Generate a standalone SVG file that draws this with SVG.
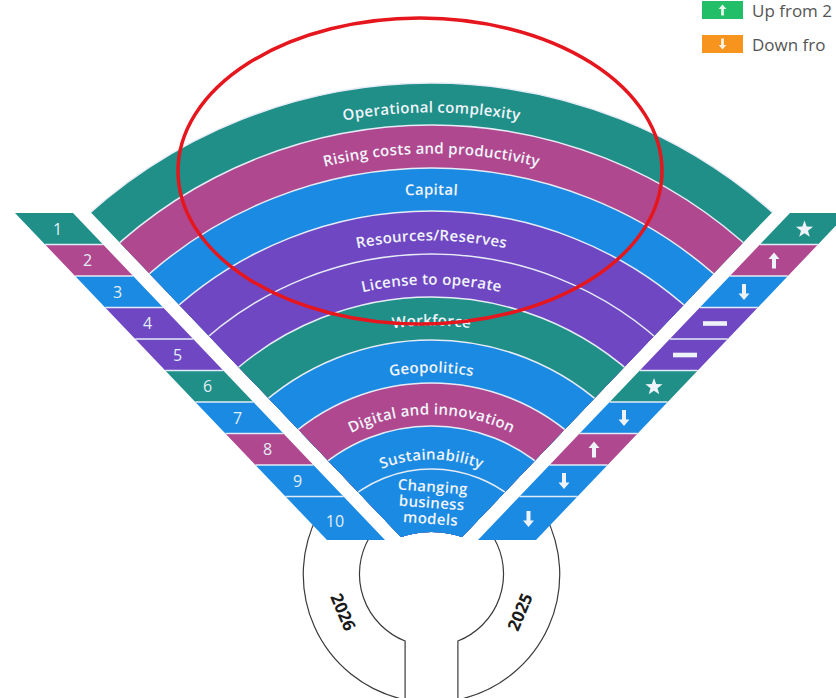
<svg xmlns="http://www.w3.org/2000/svg" width="836" height="698" viewBox="0 0 836 698">
<style>
.teal{fill:#1f8f88}.mag{fill:#b0488f}.blue{fill:#1b8ae2}.purp{fill:#7047c2}
.band{stroke:#e6ecf6;stroke-width:1.5}
.lbl{font-family:"Open Sans","Noto Sans",sans-serif;font-weight:600;font-size:15px;fill:#f1f5fb;letter-spacing:0.3px}
.num{font-family:"Open Sans","Noto Sans",sans-serif;font-size:16px;fill:#e2eff6;text-anchor:middle}
.sep{stroke:#e3ebf6;stroke-width:1.5}
.sym{fill:#eef3fa}
.hub{fill:none;stroke:#3a3a3a;stroke-width:1.2}
.yr{font-family:"Open Sans","Noto Sans",sans-serif;font-weight:700;font-size:17px;fill:#1a1a1a;text-anchor:middle}
.leg{font-family:"Open Sans","Noto Sans",sans-serif;font-size:17px;fill:#555}
</style>
<defs>
<clipPath id="fanClip"><path d="M-112 0 L975 0 L462 537 A100 100 0 0 0 401 537 Z"/></clipPath>
<path id="up" d="M0,-8 L5.5,-1.5 L2,-1.5 L2,8 L-2,8 L-2,-1.5 L-5.5,-1.5 Z"/>
<path id="down" d="M0,8 L5.5,1.5 L2,1.5 L2,-8 L-2,-8 L-2,1.5 L-5.5,1.5 Z"/>
<polygon id="star" points="0,-9 2.18,-2.99 8.56,-2.78 3.52,1.14 5.29,7.28 0,3.7 -5.29,7.28 -3.52,1.14 -8.56,-2.78 -2.18,-2.99"/>
<rect id="dash" x="-12" y="-2.3" width="24" height="4.6"/>
<path id="a1" d="M-53 597 A484.5 484.5 0 0 1 916 597"/>
<path id="a2" d="M-12 597 A443.5 443.5 0 0 1 875 597"/>
<path id="a3" d="M29 597 A402.5 402.5 0 0 1 834 597"/>
<path id="a4" d="M75 597 A356.5 356.5 0 0 1 788 597"/>
<path id="a5" d="M119 597 A312.5 312.5 0 0 1 744 597"/>
<path id="a6" d="M160 597 A271.5 271.5 0 0 1 703 597"/>
<path id="a7" d="M207 597 A224.5 224.5 0 0 1 656 597"/>
<path id="a8" d="M249 597 A182.5 182.5 0 0 1 614 597"/>
<path id="a9" d="M294 597 A137.5 137.5 0 0 1 569 597"/>
</defs>
<rect width="836" height="698" fill="#ffffff"/>

<g id="hub">
<path class="hub" d="M317.9 515 A128 128 0 0 0 399.8 698.5"/>
<path class="hub" d="M545.1 515 A128 128 0 0 1 463.2 698.5"/>
<path class="hub" d="M369.1 538 A72 72 0 0 0 405.1 641 L405.1 698"/>
<path class="hub" d="M493.9 538 A72 72 0 0 1 457.9 641 L457.9 698"/>
<text class="yr" transform="translate(343 612) rotate(67)" dy="6">2026</text>
<text class="yr" transform="translate(520 612) rotate(-67)" dy="6">2025</text>
</g>

<g id="fan" clip-path="url(#fanClip)">
<g id="band-1"><circle class="band teal" cx="431.5" cy="597" r="514"/><text class="lbl"><textPath href="#a1" startOffset="50%" text-anchor="middle">Operational complexity</textPath></text></g>
<g id="band-2"><circle class="band mag" cx="431.5" cy="597" r="472"/><text class="lbl"><textPath href="#a2" startOffset="50%" text-anchor="middle">Rising costs and productivity</textPath></text></g>
<g id="band-3"><circle class="band blue" cx="431.5" cy="597" r="429"/><text class="lbl"><textPath href="#a3" startOffset="50%" text-anchor="middle">Capital</textPath></text></g>
<g id="band-4"><circle class="band purp" cx="431.5" cy="597" r="386"/><text class="lbl"><textPath href="#a4" startOffset="50%" text-anchor="middle">Resources/Reserves</textPath></text></g>
<g id="band-5"><circle class="band purp" cx="431.5" cy="597" r="343"/><text class="lbl"><textPath href="#a5" startOffset="50%" text-anchor="middle">License to operate</textPath></text></g>
<g id="band-6"><circle class="band teal" cx="431.5" cy="597" r="300"/><text class="lbl"><textPath href="#a6" startOffset="50%" text-anchor="middle">Workforce</textPath></text></g>
<g id="band-7"><circle class="band blue" cx="431.5" cy="597" r="257"/><text class="lbl"><textPath href="#a7" startOffset="50%" text-anchor="middle">Geopolitics</textPath></text></g>
<g id="band-8"><circle class="band mag" cx="431.5" cy="597" r="214"/><text class="lbl"><textPath href="#a8" startOffset="50%" text-anchor="middle">Digital and innovation</textPath></text></g>
<g id="band-9"><circle class="band blue" cx="431.5" cy="597" r="171"/><text class="lbl"><textPath href="#a9" startOffset="50%" text-anchor="middle">Sustainability</textPath></text></g>
<g id="band-10"><circle class="band blue" cx="431.5" cy="597" r="128"/>
<g class="lbl" text-anchor="middle" transform="rotate(4 431.5 505)"><text x="431.5" y="492">Changing</text><text x="431.5" y="508">business</text><text x="431.5" y="524">models</text></g></g>
</g>

<g id="ranks">
<g id="rank-1"><polygon class="teal" points="15,213 73,213 103.05,244.5 45.05,244.5"/><text class="num" x="57.5" y="234.5">1</text></g>
<g id="rank-2"><polygon class="mag" points="45.05,244.5 103.05,244.5 133.1,276 75.1,276"/><text class="num" x="87.5" y="266">2</text></g>
<g id="rank-3"><polygon class="blue" points="75.1,276 133.1,276 163.15,307.5 105.15,307.5"/><text class="num" x="117.5" y="297.5">3</text></g>
<g id="rank-4"><polygon class="purp" points="105.15,307.5 163.15,307.5 193.2,339 135.2,339"/><text class="num" x="147.5" y="329">4</text></g>
<g id="rank-5"><polygon class="purp" points="135.2,339 193.2,339 223.26,370.5 165.26,370.5"/><text class="num" x="177.5" y="360.5">5</text></g>
<g id="rank-6"><polygon class="teal" points="165.26,370.5 223.26,370.5 253.3,402 195.3,402"/><text class="num" x="207.5" y="392">6</text></g>
<g id="rank-7"><polygon class="blue" points="195.3,402 253.3,402 283.4,433.5 225.4,433.5"/><text class="num" x="237.5" y="423.5">7</text></g>
<g id="rank-8"><polygon class="mag" points="225.4,433.5 283.4,433.5 313.4,465 255.4,465"/><text class="num" x="267.5" y="455">8</text></g>
<g id="rank-9"><polygon class="blue" points="255.4,465 313.4,465 343.5,496.5 285.5,496.5"/><text class="num" x="297.5" y="486.5">9</text></g>
<g id="rank-10"><polygon class="blue" points="285.5,496.5 343.5,496.5 385,540 327,540"/><text class="num" x="335" y="526.5">10</text></g>
<g id="rank-separators">
<line class="sep" x1="45.05" y1="244.5" x2="103.05" y2="244.5"/>
<line class="sep" x1="75.1" y1="276" x2="133.1" y2="276"/>
<line class="sep" x1="105.15" y1="307.5" x2="163.15" y2="307.5"/>
<line class="sep" x1="135.2" y1="339" x2="193.2" y2="339"/>
<line class="sep" x1="165.26" y1="370.5" x2="223.26" y2="370.5"/>
<line class="sep" x1="195.3" y1="402" x2="253.3" y2="402"/>
<line class="sep" x1="225.4" y1="433.5" x2="283.4" y2="433.5"/>
<line class="sep" x1="255.4" y1="465" x2="313.4" y2="465"/>
<line class="sep" x1="285.5" y1="496.5" x2="343.5" y2="496.5"/>
</g>
</g>

<g id="changes">
<g id="change-1"><polygon class="teal" points="848,213 790,213 759.95,244.5 817.95,244.5"/><use class="sym" href="#star" x="804.5" y="229.5"/></g>
<g id="change-2"><polygon class="mag" points="817.95,244.5 759.95,244.5 729.9,276 787.9,276"/><use class="sym" href="#up" x="774" y="260.5"/></g>
<g id="change-3"><polygon class="blue" points="787.9,276 729.9,276 699.85,307.5 757.85,307.5"/><use class="sym" href="#down" x="744" y="292"/></g>
<g id="change-4"><polygon class="purp" points="757.85,307.5 699.85,307.5 669.8,339 727.8,339"/><use class="sym" href="#dash" x="715" y="323.5"/></g>
<g id="change-5"><polygon class="purp" points="727.8,339 669.8,339 639.74,370.5 697.74,370.5"/><use class="sym" href="#dash" x="685" y="355"/></g>
<g id="change-6"><polygon class="teal" points="697.74,370.5 639.74,370.5 609.7,402 667.7,402"/><use class="sym" href="#star" x="654" y="387"/></g>
<g id="change-7"><polygon class="blue" points="667.7,402 609.7,402 579.6,433.5 637.6,433.5"/><use class="sym" href="#down" x="624" y="418"/></g>
<g id="change-8"><polygon class="mag" points="637.6,433.5 579.6,433.5 549.6,465 607.6,465"/><use class="sym" href="#up" x="594" y="449.5"/></g>
<g id="change-9"><polygon class="blue" points="607.6,465 549.6,465 519.5,496.5 577.5,496.5"/><use class="sym" href="#down" x="564" y="481"/></g>
<g id="change-10"><polygon class="blue" points="577.5,496.5 519.5,496.5 478,540 536,540"/><use class="sym" href="#down" x="528.5" y="519"/></g>
<g id="change-separators">
<line class="sep" x1="817.95" y1="244.5" x2="759.95" y2="244.5"/>
<line class="sep" x1="787.9" y1="276" x2="729.9" y2="276"/>
<line class="sep" x1="757.85" y1="307.5" x2="699.85" y2="307.5"/>
<line class="sep" x1="727.8" y1="339" x2="669.8" y2="339"/>
<line class="sep" x1="697.74" y1="370.5" x2="639.74" y2="370.5"/>
<line class="sep" x1="667.7" y1="402" x2="609.7" y2="402"/>
<line class="sep" x1="637.6" y1="433.5" x2="579.6" y2="433.5"/>
<line class="sep" x1="607.6" y1="465" x2="549.6" y2="465"/>
<line class="sep" x1="577.5" y1="496.5" x2="519.5" y2="496.5"/>
</g>
</g>

<g id="legend">
<g id="legend-up"><rect x="702" y="1" width="41" height="18" fill="#22bf68"/><use href="#up" fill="#e6f7ec" transform="translate(722.5 10) scale(0.7)"/><text class="leg" x="752" y="17">Up from 2</text></g>
<g id="legend-down"><rect x="702" y="35" width="41" height="18" fill="#f7941d"/><use href="#down" fill="#fdf0e0" transform="translate(722.5 44) scale(0.7)"/><text class="leg" x="752" y="51">Down fro</text></g>
</g>

<g id="connectors"></g>

<ellipse id="highlight" cx="420" cy="171" rx="242" ry="153" fill="none" stroke="#e5161d" stroke-width="3.5"/>
</svg>
